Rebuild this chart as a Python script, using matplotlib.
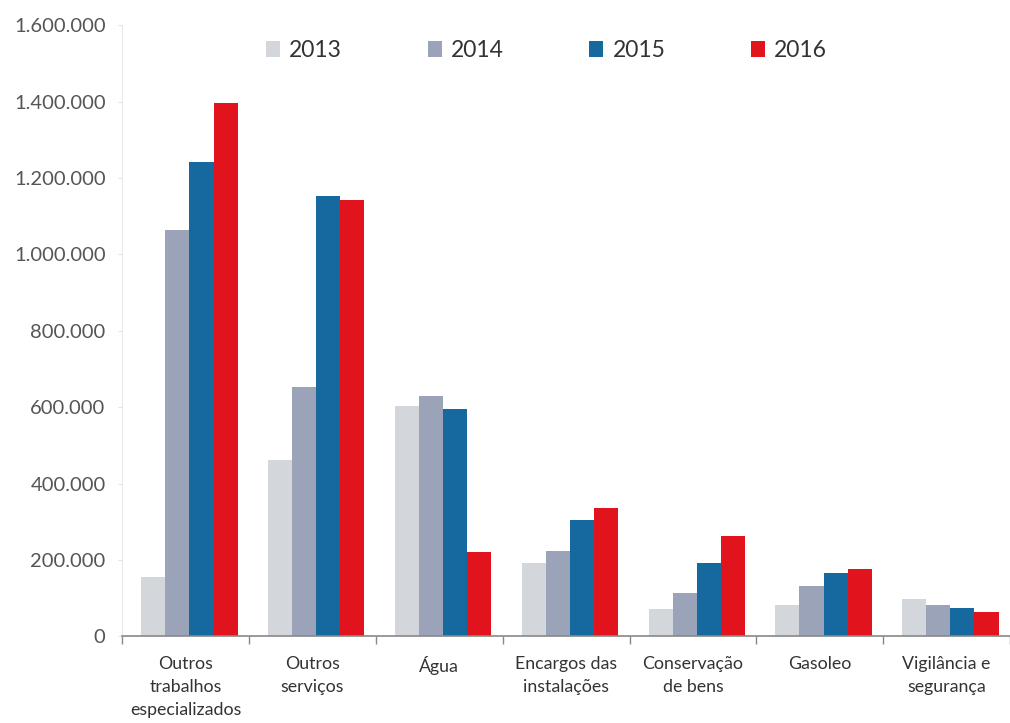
import matplotlib
matplotlib.use("Agg")
import matplotlib.pyplot as plt
import numpy as np
from matplotlib.ticker import FuncFormatter

categories = ["Outros\ntrabalhos\nespecializados", "Outros\nserviços", "Água",
              "Encargos das\ninstalações", "Conservação\nde bens", "Gasoleo",
              "Vigilância e\nsegurança"]
years = ["2013", "2014", "2015", "2016"]
v2013 = [154000, 461000, 604000, 193000, 71000, 83000, 98000]
v2014 = [1064000, 652000, 630000, 223000, 112000, 132000, 82000]
v2015 = [1242000, 1153000, 594000, 304000, 192000, 166000, 73000]
v2016 = [1396000, 1142000, 220000, 336000, 263000, 177000, 64000]
yticks = [0, 200000, 400000, 600000, 800000, 1000000, 1200000, 1400000, 1600000]

colors = ["#d3d7db", "#9ba3b9", "#16699f", "#e1141e"]

plt.rcParams['font.family'] = ['Lato', 'DejaVu Sans']

fig = plt.figure(figsize=(10.1, 7.23), dpi=100)
ax = fig.add_axes([0.121, 0.12, 0.879, 0.845])

x = np.arange(len(categories))
w = 0.19
series = [v2013, v2014, v2015, v2016]
for i, (vals, c, lab) in enumerate(zip(series, colors, years)):
    ax.bar(x + (i - 1.5) * w + 0.03, vals, width=w, color=c, label=lab, linewidth=0)

ax.set_xlim(-0.5, len(categories) - 0.5)
ax.set_ylim(0, 1600000)
ax.set_yticks(yticks)
ax.yaxis.set_major_formatter(FuncFormatter(lambda v, p: f"{int(v):,}".replace(",", ".")))
ax.tick_params(axis='y', labelsize=14.5, labelcolor="#555555", length=3, color="#e4e4e4", pad=9)

ax.set_xticks(x)
ax.set_xticklabels(categories, fontsize=12.8, color="#333333", linespacing=1.55)
ax.tick_params(axis='x', length=0, pad=14)
ax.set_xticks(np.arange(-0.5, len(categories), 1.0), minor=True)
ax.tick_params(axis='x', which='minor', length=6, color="#888888", width=1)

for s in ["top", "right"]:
    ax.spines[s].set_visible(False)
ax.spines["left"].set_color("#eaeaea")
ax.spines["bottom"].set_color("#888888")
ax.spines["bottom"].set_linewidth(1.2)

leg = ax.legend(loc="upper center", bbox_to_anchor=(0.478, 1.01), ncol=4, frameon=False,
                prop={"size": 16.5}, handlelength=0.6, handleheight=0.7,
                columnspacing=3.75, handletextpad=0.4)
for t in leg.get_texts():
    t.set_color("#333333")

fig.savefig("out.png", dpi=100)
